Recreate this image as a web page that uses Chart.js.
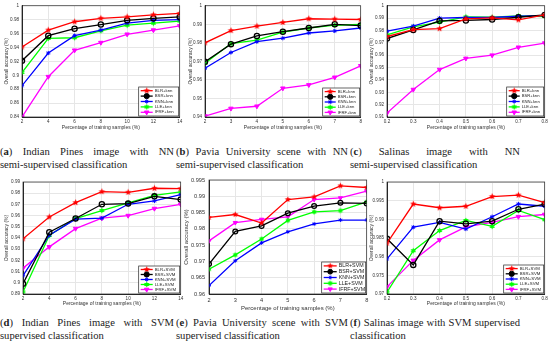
<!DOCTYPE html>
<html>
<head>
<meta charset="utf-8">
<script src="https://cdn.jsdelivr.net/npm/chart.js@4.4.1/dist/chart.umd.min.js"></script>
<style>
body{margin:0;width:550px;height:344px;background:#fff;position:relative;overflow:hidden}
canvas{position:absolute}
.cap{position:absolute;width:172px;font-family:"Liberation Serif",serif;font-size:10.6px;line-height:12.8px;color:#222}
.cap .l1{text-align:justify;text-align-last:justify;white-space:nowrap}
</style>
</head>
<body>
<div class="cap" style="left:0;top:146px;width:174px"><div class="l1">(<b>a</b>) Indian Pines image with NN</div><div>semi-supervised classification</div></div>
<div class="cap" style="left:176px;top:146px"><div class="l1">(<b>b</b>) Pavia University scene with NN</div><div>semi-supervised classification</div></div>
<div class="cap" style="left:350px;top:146px;width:170px"><div class="l1">(<b>c</b>) Salinas image with NN</div><div>semi-supervised classification</div></div>
<div class="cap" style="left:0;top:317px;width:174px"><div class="l1">(<b>d</b>) Indian Pines image with SVM</div><div>supervised classification</div></div>
<div class="cap" style="left:176px;top:317px"><div class="l1">(<b>e</b>) Pavia University scene with SVM</div><div>supervised classification</div></div>
<div class="cap" style="left:350px;top:317px;width:170px"><div class="l1">(<b>f</b>) Salinas image with SVM supervised</div><div>classification</div></div>
<script>
const xIndian = [2, 4, 6, 8, 10, 12, 14]
const xPavia = [2, 3, 4, 5, 6, 7, 8]
const xSalinas = [0.2, 0.3, 0.4, 0.5, 0.6, 0.7, 0.8]
const methods = ['BLR', 'BSR', 'KNN', 'LLE', 'IFRF']

// rows follow methods: BLR, BSR, KNN, LLE, IFRF
const nnIndian = [
    [0.9407, 0.965, 0.977, 0.982, 0.984, 0.987, 0.989],
    [0.921, 0.957, 0.967, 0.973, 0.979, 0.982, 0.984],
    [0.885, 0.932, 0.957, 0.965, 0.975, 0.979, 0.980],
    [0.904, 0.953, 0.954, 0.964, 0.972, 0.975, 0.978],
    [0.840, 0.898, 0.936, 0.947, 0.959, 0.965, 0.971]
]
const nnPavia = [
    [0.980, 0.9866, 0.989, 0.991, 0.993, 0.9928, 0.9926],
    [0.9698, 0.9793, 0.9837, 0.986, 0.988, 0.990, 0.9893],
    [0.9663, 0.9748, 0.9806, 0.9825, 0.9853, 0.9864, 0.988],
    [0.969, 0.9796, 0.9815, 0.9858, 0.988, 0.9895, 0.990],
    [0.9405, 0.9446, 0.9458, 0.9555, 0.9573, 0.9614, 0.9676]
]
const nnSalinas = [
    [0.9751, 0.9807, 0.9815, 0.9894, 0.9902, 0.9886, 0.9926],
    [0.9735, 0.9804, 0.9878, 0.9881, 0.9889, 0.9907, 0.9926],
    [0.9794, 0.9836, 0.990, 0.9905, 0.9905, 0.9915, 0.992],
    [0.9764, 0.983, 0.9868, 0.991, 0.9907, 0.9918, 0.9913],
    [0.9132, 0.9322, 0.9484, 0.9574, 0.960, 0.9664, 0.9698]
]
const svmIndian = [
    [0.9393, 0.9588, 0.9716, 0.9814, 0.9808, 0.9844, 0.9841],
    [0.8992, 0.9452, 0.9574, 0.9701, 0.9707, 0.9772, 0.9743],
    [0.9063, 0.9425, 0.9568, 0.9577, 0.9701, 0.9731, 0.9787],
    [0.8918, 0.9422, 0.9574, 0.9645, 0.9713, 0.9781, 0.9811],
    [0.9131, 0.9321, 0.9484, 0.9577, 0.960, 0.9663, 0.9701]
]
const svmPavia = [
    [0.9835, 0.9844, 0.9818, 0.989, 0.9898, 0.9932, 0.9927],
    [0.9692, 0.9792, 0.9809, 0.9848, 0.987, 0.988, 0.9878],
    [0.9626, 0.9702, 0.9757, 0.9791, 0.9815, 0.9827, 0.9827],
    [0.9676, 0.972, 0.9769, 0.9826, 0.9852, 0.9856, 0.9883],
    [0.9763, 0.9819, 0.9829, 0.9837, 0.989, 0.9895, 0.9916]
]
const svmSalinas = [
    [0.9836, 0.9941, 0.9931, 0.9935, 0.9961, 0.9965, 0.9945],
    [0.9848, 0.9778, 0.9895, 0.9888, 0.9895, 0.9927, 0.9941],
    [0.9794, 0.9879, 0.9892, 0.9874, 0.9907, 0.9941, 0.9935],
    [0.9705, 0.9816, 0.987, 0.9897, 0.9881, 0.9924, 0.9899],
    [0.9719, 0.979, 0.9845, 0.988, 0.9892, 0.9907, 0.9913]
]

const colors = ['#ff0000', '#000000', '#0000ff', '#00ff00', '#ff00ff']

const starCanvas = (color, n, r, inner) => {
    const c = document.createElement('canvas')
    const s = Math.ceil(r * 2 + 2)
    c.width = c.height = s
    const g = c.getContext('2d')
    g.fillStyle = color
    g.beginPath()
    for (let i = 0; i < n * 2; i++) {
        const rr = i % 2 ? r * inner : r
        const a = -Math.PI / 2 + i * Math.PI / n
        g.lineTo(s / 2 + rr * Math.cos(a), s / 2 + rr * Math.sin(a))
    }
    g.closePath()
    g.fill()
    return c
}

const fmt = v => String(Math.round(v * 1000) / 1000)

const boxPlugin = {
    id: 'boxLegend',
    afterDraw(chart, args, o) {
        const { ctx, chartArea: a } = chart
        ctx.save()
        ctx.strokeStyle = '#262626'
        ctx.lineWidth = 0.7
        ctx.strokeRect(a.left, a.top, a.right - a.left, a.bottom - a.top)
        const x = a.right - o.w - 1, y = a.bottom - o.h - 1
        ctx.fillStyle = '#fff'
        ctx.fillRect(x, y, o.w, o.h)
        ctx.strokeRect(x, y, o.w, o.h)
        const rowH = (o.h - 2) / 5
        chart.data.datasets.forEach((ds, i) => {
            const cy = y + 1 + rowH * (i + 0.5)
            ctx.strokeStyle = ds.borderColor
            ctx.fillStyle = ds.borderColor
            ctx.lineWidth = ds.borderWidth
            ctx.beginPath()
            ctx.moveTo(x + 2, cy)
            ctx.lineTo(x + 2 + o.line, cy)
            ctx.stroke()
            ctx.lineWidth = 1
            Chart.helpers.drawPoint(ctx, {
                pointStyle: ds.pointStyle, rotation: ds.pointRotation || 0,
                radius: ds.pointRadius, borderWidth: 1
            }, x + 2 + o.line / 2, cy)
            ctx.fillStyle = '#222'
            ctx.font = o.font + 'px "Liberation Sans"'
            ctx.textBaseline = 'middle'
            ctx.fillText(ds.label, x + 4 + o.line, cy)
        })
        ctx.restore()
    }
}

const panel = (p) => {
    const cv = document.createElement('canvas')
    cv.width = p.w
    cv.height = p.h
    cv.style.left = p.left + 'px'
    cv.style.top = p.top + 'px'
    document.body.appendChild(cv)
    const r = p.mk
    const styles = [
        starCanvas(colors[0], 5, r + 0.8, 0.45),
        'circle',
        'star',
        starCanvas(colors[3], 6, r + 0.5, 0.55),
        'triangle'
    ]
    const datasets = p.series.map((vals, i) => ({
        label: methods[i] + p.suffix,
        data: vals.map((v, j) => ({ x: p.xs[j], y: v })),
        borderColor: colors[i],
        backgroundColor: i === 1 ? 'rgba(0,0,0,0)' : colors[i],
        borderWidth: p.lw,
        pointStyle: styles[i],
        pointRotation: i === 4 ? 180 : 0,
        pointRadius: i === 2 ? r - 0.5 : r,
        pointBorderWidth: i === 1 ? 1.3 : 1,
        pointBackgroundColor: i === 1 ? 'rgba(0,0,0,0)' : colors[i]
    }))
    new Chart(cv, {
        type: 'line',
        data: { datasets },
        options: {
            responsive: false,
            animation: false,
            layout: { padding: { top: p.pt, right: p.pr, left: 0, bottom: 0 } },
            plugins: {
                legend: { display: false },
                tooltip: { enabled: false },
                boxLegend: p.legend
            },
            scales: {
                x: {
                    type: 'linear', min: p.xs[0], max: p.xs[p.xs.length - 1],
                    ticks: { stepSize: p.xstep, font: { size: p.tf, family: 'Liberation Sans' }, color: '#333', padding: p.xpad || 2, callback: fmt },
                    grid: { color: '#e6e6e6', drawTicks: false },
                    border: { color: '#262626' },
                    title: { display: true, text: 'Percentage of training samples (%)', color: '#333', font: { size: p.af, family: 'Liberation Sans' }, padding: { top: 0, bottom: p.xtp } },
                    afterFit: s => { s.height = p.xh }
                },
                y: {
                    min: p.ymin, max: p.ymax,
                    ticks: { stepSize: p.ystep, font: { size: p.tf, family: 'Liberation Sans' }, color: '#333', padding: p.ypad || 3, callback: fmt },
                    grid: { color: '#e6e6e6', drawTicks: false },
                    border: { color: '#262626' },
                    title: { display: true, text: 'Overall accuracy (%)', color: '#333', font: { size: p.af, family: 'Liberation Sans' }, padding: { top: p.ytp, bottom: 0 } },
                    afterFit: s => { s.width = p.yw }
                }
            }
        },
        plugins: [boxPlugin]
    })
}

const small = { tf: 4.6, af: 5, lw: 1.3, mk: 2.6 }

panel({ ...small, left: 0, top: 0, w: 185, h: 134, pt: 4, pr: 3, yw: 22, xh: 17, xtp: 3, ytp: 4,
    xs: xIndian, xstep: 2, ymin: 0.84, ymax: 1, ystep: 0.02, series: nnIndian, suffix: '+knn',
    legend: { w: 40, h: 29, line: 12, font: 4.3 } })
panel({ ...small, left: 185, top: 0, w: 181, h: 134, pt: 4, pr: 3, yw: 20, xh: 17, xtp: 3, ytp: 3,
    xs: xPavia, xstep: 1, ymin: 0.94, ymax: 1, ystep: 0.01, series: nnPavia, suffix: '+knn',
    legend: { w: 37, h: 28, line: 11, font: 4.2 } })
panel({ ...small, left: 366, top: 0, w: 184, h: 134, pt: 4, pr: 5, yw: 21, xh: 17, xtp: 3, ytp: 3,
    xs: xSalinas, xstep: 0.1, ymin: 0.91, ymax: 1, ystep: 0.01, series: nnSalinas, suffix: '+knn',
    legend: { w: 37, h: 29, line: 11, font: 4.2 } })
panel({ ...small, left: 0, top: 170, w: 186, h: 140, pt: 12, pr: 3, yw: 23, xh: 16, xtp: 3, ytp: 4,
    xs: xIndian, xstep: 2, ymin: 0.89, ymax: 0.99, ystep: 0.01, series: svmIndian, suffix: '+SVM',
    legend: { w: 41, h: 27, line: 12, font: 4.3 } })
panel({ left: 180, top: 170, w: 192, h: 143, pt: 10, pr: 3, yw: 29, xh: 19, xtp: 1, ytp: 3, xpad: 3, ypad: 4,
    tf: 5.6, af: 6, lw: 1.3, mk: 2.4,
    xs: xPavia, xstep: 1, ymin: 0.96, ymax: 0.995, ystep: 0.005, series: svmPavia, suffix: '+SVM',
    legend: { w: 44, h: 31, line: 13, font: 5.3 } })
panel({ ...small, left: 366, top: 170, w: 184, h: 140, pt: 12, pr: 5, yw: 21, xh: 16, xtp: 3, ytp: 3,
    xs: xSalinas, xstep: 0.1, ymin: 0.97, ymax: 1, ystep: 0.005, series: svmSalinas, suffix: '+SVM',
    legend: { w: 40, h: 28, line: 12, font: 4.3 } })
</script>
</body>
</html>
